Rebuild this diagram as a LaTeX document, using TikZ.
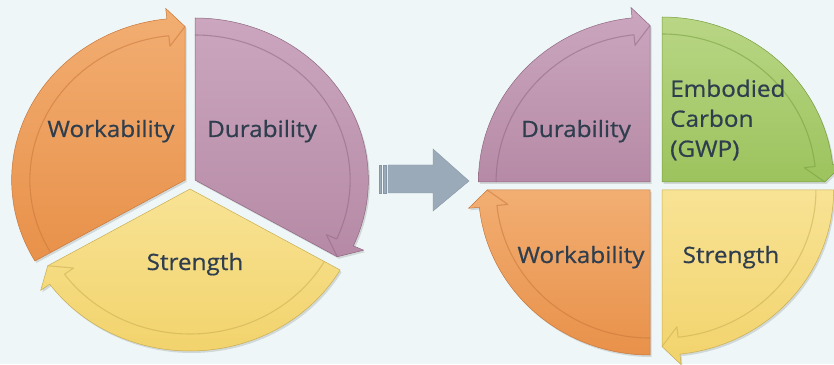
\documentclass[tikz,border=0pt]{standalone}
\usepackage{fontspec}
\setmainfont[FakeStretch=1.08, FakeBold=0.7]{Open Sans}
\definecolor{bgc}{HTML}{EEF6F7}
\definecolor{txt}{HTML}{2F3E4E}
\definecolor{orT}{HTML}{F2AE72}\definecolor{orB}{HTML}{E8914A}\definecolor{orL}{HTML}{C9773A}
\definecolor{puT}{HTML}{CBA6BE}\definecolor{puB}{HTML}{B68AA6}\definecolor{puL}{HTML}{8F6882}
\definecolor{yeT}{HTML}{F8E395}\definecolor{yeB}{HTML}{F2D36C}\definecolor{yeL}{HTML}{C9AE52}
\definecolor{gnT}{HTML}{B9D685}\definecolor{gnB}{HTML}{9CC35D}\definecolor{gnL}{HTML}{789E40}
\definecolor{arF}{HTML}{9BAAB8}\definecolor{arL}{HTML}{8696A6}
\newcommand\cycseg[8]{% #1 apex, #2 start angle, #3 end angle, #4 radius, #5 xscale, #6 top, #7 bottom, #8 line
  \begin{scope}[shift={#1}, xscale=#5]
    \pgfmathsetmacro\Rin{#4-17}
    \pgfmathsetmacro\Rmid{#4-8.5}
    \pgfmathsetmacro\Ra{\Rmid+19}
    \pgfmathsetmacro\Rb{\Rmid-19}
    \pgfmathsetmacro\eb{#3+6}
    \fill[black, opacity=.12, shift={(1.5,-2)}] (0,0) -- (#2:#4) arc[start angle=#2, end angle=\eb, radius=#4pt]
      -- (\eb:\Ra) -- (#3:\Rmid) -- cycle;
    \path[segbody, top color=#6, bottom color=#7, draw=#8] (0,0) -- (#2:#4) arc[start angle=#2, end angle=\eb, radius=#4pt]
      -- (\eb:\Ra) -- (#3:\Rmid) -- cycle;
    \draw[segline, draw=#8] (#2:\Rin) arc[start angle=#2, end angle=\eb, radius=\Rin pt] -- (\eb:\Rb) -- (#3:\Rmid);
  \end{scope}}
\tikzset{
  segbody/.style={line width=.5pt, line join=round},
  segline/.style={line width=1.1pt, opacity=.55, line join=round},
  lbl/.style={text=txt, font=\fontsize{22.5}{30}\selectfont, inner sep=0pt},
}
\begin{document}
\begin{tikzpicture}[x=1pt, y=1pt]
\useasboundingbox (0,0) rectangle (834,364);
\fill[bgc] (0,0) rectangle (834,364);

% left cycle
\cycseg{(185,184)}{210}{90}{162}{1.07}{orT}{orB}{orL}
\cycseg{(195,184)}{90}{-30}{162}{1.07}{puT}{puB}{puL}
\cycseg{(190,175)}{-30}{-150}{162}{1.07}{yeT}{yeB}{yeL}

\node[lbl, anchor=base] (lwork) at (111,227) {Workability};
\node[lbl, anchor=base] (ldur) at (262,227) {Durability};
\node[lbl, anchor=base] (lstr) at (195,94) {Strength};

% middle block arrow
\fill[arF, draw=arL, line width=.4pt] (379,171) rectangle (381.5,199);
\fill[arF, draw=arL, line width=.4pt] (383.5,171) rectangle (386,199);
\path[fill=arF, draw=arL, line width=.4pt] (388,171) -- (433,171) -- (433,153) -- (469,183)
   -- (433,215) -- (433,199) -- (388,199) -- cycle;

% right cycle
\cycseg{(650,182)}{180}{90}{165}{1.04}{puT}{puB}{puL}
\cycseg{(662,182)}{90}{0}{165}{1.04}{gnT}{gnB}{gnL}
\cycseg{(662,174)}{0}{-90}{165}{1.04}{yeT}{yeB}{yeL}
\cycseg{(650,174)}{-90}{-180}{165}{1.04}{orT}{orB}{orL}

\node[lbl, anchor=base] (rdur) at (576,227) {Durability};
\node[lbl, anchor=west, align=left] (remb) at (670,244) {Embodied\\Carbon\\(GWP)};
\node[lbl, anchor=base] (rwork) at (581,101) {Workability};
\node[lbl, anchor=base] (rstr) at (731,101) {Strength};
\end{tikzpicture}
\end{document}
